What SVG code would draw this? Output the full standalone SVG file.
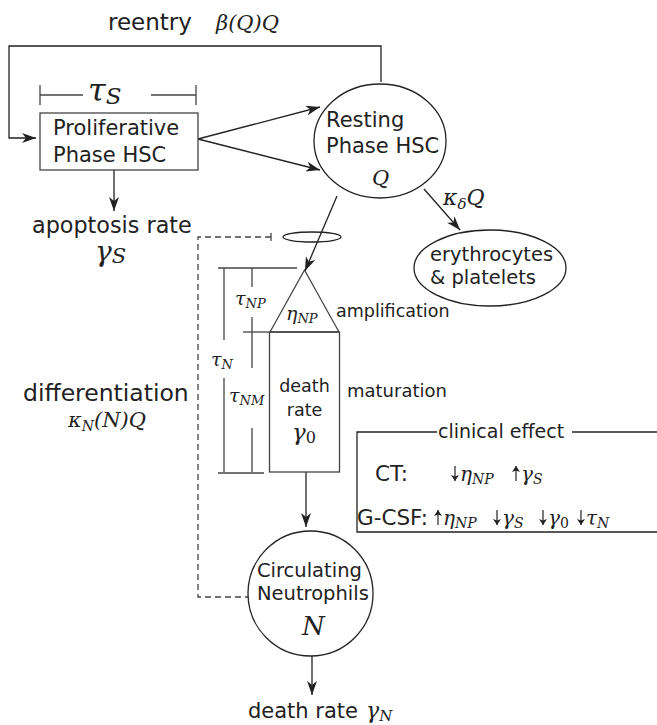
<svg xmlns="http://www.w3.org/2000/svg" width="657" height="725" viewBox="0 0 657 725">
<defs>
<marker id="ah" viewBox="0 0 14 10" refX="14" refY="5" markerWidth="14" markerHeight="10" markerUnits="userSpaceOnUse" orient="auto">
<path d="M0,0 L14,5 L0,10 L4,5 z" fill="#222"/>
</marker>
<marker id="sa" viewBox="0 0 6 8" refX="6" refY="4" markerWidth="6" markerHeight="8" markerUnits="userSpaceOnUse" orient="auto">
<path d="M0,0 L6,4 L0,8 L1.5,4 z" fill="#222"/>
</marker>
<style>
.s{font-family:"DejaVu Sans",Verdana,sans-serif;fill:#222}
.m{font-family:"DejaVu Serif","Liberation Serif",serif;font-style:italic;fill:#222}
.mu{font-family:"DejaVu Serif","Liberation Serif",serif;font-style:normal;fill:#222}
.ln{fill:none;stroke:#222;stroke-width:1.3}
.gl{fill:none;stroke:#444;stroke-width:1.3}
.ar{fill:none;stroke:#222;stroke-width:1.3;marker-end:url(#ah)}
.sm{fill:none;stroke:#222;stroke-width:1.2;marker-end:url(#sa)}
.da{fill:none;stroke:#444;stroke-width:1.3;stroke-dasharray:6 4}
</style>
</defs>

<g id="connectors">
<polyline class="ar" points="381,82 381,46 9,46 9,138 36,138"/>
<line class="ar" x1="198" y1="139" x2="320" y2="107"/>
<line class="ar" x1="198" y1="139" x2="320" y2="170"/>
<line class="ar" x1="114" y1="170" x2="114" y2="211"/>
<line class="ar" x1="337" y1="196" x2="305" y2="271"/>
<line class="ar" x1="424" y1="189" x2="460" y2="230"/>
<line class="ar" x1="306" y1="472" x2="306" y2="527"/>
<line class="ar" x1="312" y1="656" x2="312" y2="695"/>
<polyline class="da" points="271,237 198,237 198,597 248,597"/>
<line class="gl" x1="271" y1="233" x2="271" y2="241"/>
</g>

<g id="reentry-label">
<text class="s" x="108" y="30" font-size="23">reentry</text>
<text class="m" x="216" y="30" font-size="21">β(Q)Q</text>
</g>

<g id="tauS">
<line class="gl" x1="40" y1="85" x2="40" y2="105"/>
<line class="gl" x1="196" y1="85" x2="196" y2="105"/>
<line class="gl" x1="40" y1="95" x2="83" y2="95"/>
<line class="gl" x1="151" y1="95" x2="196" y2="95"/>
<text class="m" x="88" y="101" font-size="32">τ<tspan font-size="23" dy="3">S</tspan></text>
</g>

<g id="proliferative">
<rect class="gl" x="40" y="113" width="158" height="57"/>
<text class="s" x="53" y="135" font-size="21">Proliferative</text>
<text class="s" x="53" y="162" font-size="21">Phase HSC</text>
</g>

<g id="resting">
<ellipse class="ln" cx="380" cy="141" rx="66" ry="57"/>
<text class="s" x="326" y="127" font-size="21">Resting</text>
<text class="s" x="326" y="153" font-size="21">Phase HSC</text>
<text class="m" x="372" y="185" font-size="21">Q</text>
</g>

<g id="apoptosis">
<text class="s" x="32" y="233" font-size="22.3">apoptosis rate</text>
<text class="m" x="95" y="261" font-size="28">γ<tspan font-size="21" dy="2">S</tspan></text>
</g>

<g id="feedback-ring">
<ellipse class="ln" cx="312" cy="237" rx="29" ry="5"/>
</g>

<g id="kappa-delta">
<text class="m" x="443" y="205" font-size="22">κ<tspan font-size="15" dy="4">δ</tspan><tspan dy="-4">Q</tspan></text>
</g>

<g id="erythrocytes">
<ellipse class="ln" cx="490" cy="268" rx="76" ry="38"/>
<text class="s" x="430" y="261" font-size="19.5">erythrocytes</text>
<text class="s" x="430" y="284" font-size="19.5">&amp; platelets</text>
</g>

<g id="differentiation">
<text class="s" x="23" y="401" font-size="23.5">differentiation</text>
<text class="m" x="68" y="427" font-size="21">κ<tspan font-size="14" dy="4">N</tspan><tspan dy="-4">(N)Q</tspan></text>
</g>

<g id="brackets">
<line class="gl" x1="218" y1="268" x2="297" y2="268"/>
<line class="gl" x1="224" y1="268" x2="224" y2="340"/>
<line class="gl" x1="224" y1="378" x2="224" y2="472"/>
<line class="gl" x1="218" y1="473" x2="264" y2="473"/>
<line class="gl" x1="252" y1="268" x2="252" y2="287"/>
<line class="gl" x1="252" y1="317" x2="252" y2="368"/>
<line class="gl" x1="252" y1="428" x2="252" y2="472"/>
<line class="gl" x1="243" y1="332" x2="270" y2="332"/>
<text class="m" x="235" y="305" font-size="19">τ<tspan font-size="13" dy="3">NP</tspan></text>
<text class="m" x="211" y="366" font-size="19">τ<tspan font-size="13" dy="3">N</tspan></text>
<text class="m" x="229" y="402" font-size="19">τ<tspan font-size="13" dy="3">NM</tspan></text>
</g>

<g id="amplification">
<polygon class="gl" points="304.5,270 270,332 339,332"/>
<text class="m" x="286" y="320" font-size="19">η<tspan font-size="13" dy="3">NP</tspan></text>
<text class="s" x="336" y="317" font-size="17.5">amplification</text>
</g>

<g id="maturation">
<rect class="gl" x="269.5" y="332" width="70" height="140"/>
<text class="s" x="304.5" y="392" font-size="17.5" text-anchor="middle">death</text>
<text class="s" x="304.5" y="416" font-size="17.5" text-anchor="middle">rate</text>
<text class="m" x="292" y="440" font-size="23">γ<tspan class="mu" font-size="16" dy="3">0</tspan></text>
<text class="s" x="347" y="397" font-size="18">maturation</text>
</g>

<g id="clinical-effect">
<polyline class="ln" points="437,432 357,432 357,532 657,532"/>
<line class="ln" x1="572" y1="432" x2="657" y2="432"/>
<text class="s" x="438" y="438" font-size="19">clinical effect</text>
<text class="s" x="375" y="481" font-size="21.5">CT:</text>
<line class="sm" x1="455" y1="466" x2="455" y2="481"/>
<text class="m" x="460" y="481" font-size="20">η<tspan font-size="14" dy="3">NP</tspan></text>
<line class="sm" x1="516" y1="481" x2="516" y2="466"/>
<text class="m" x="521" y="481" font-size="20">γ<tspan font-size="14" dy="3">S</tspan></text>
<text class="s" x="357" y="525" font-size="21.5">G-CSF:</text>
<line class="sm" x1="438" y1="525" x2="438" y2="510"/>
<text class="m" x="443" y="525" font-size="20">η<tspan font-size="14" dy="3">NP</tspan></text>
<line class="sm" x1="497" y1="510" x2="497" y2="525"/>
<text class="m" x="502" y="525" font-size="20">γ<tspan font-size="14" dy="3">S</tspan></text>
<line class="sm" x1="543" y1="510" x2="543" y2="525"/>
<text class="m" x="548" y="525" font-size="20">γ<tspan class="mu" font-size="14" dy="3">0</tspan></text>
<line class="sm" x1="581" y1="510" x2="581" y2="525"/>
<text class="m" x="586" y="525" font-size="20">τ<tspan font-size="14" dy="3">N</tspan></text>
</g>

<g id="neutrophils">
<circle class="ln" cx="310.5" cy="593.5" r="62.5"/>
<text class="s" x="257" y="577" font-size="19.5">Circulating</text>
<text class="s" x="257" y="600" font-size="19.5">Neutrophils</text>
<text class="m" x="302" y="635" font-size="26">N</text>
</g>

<g id="death-rate-N">
<text class="s" x="248" y="718" font-size="21">death rate</text>
<text class="m" x="366" y="718" font-size="22">γ<tspan font-size="15" dy="3">N</tspan></text>
</g>
</svg>
